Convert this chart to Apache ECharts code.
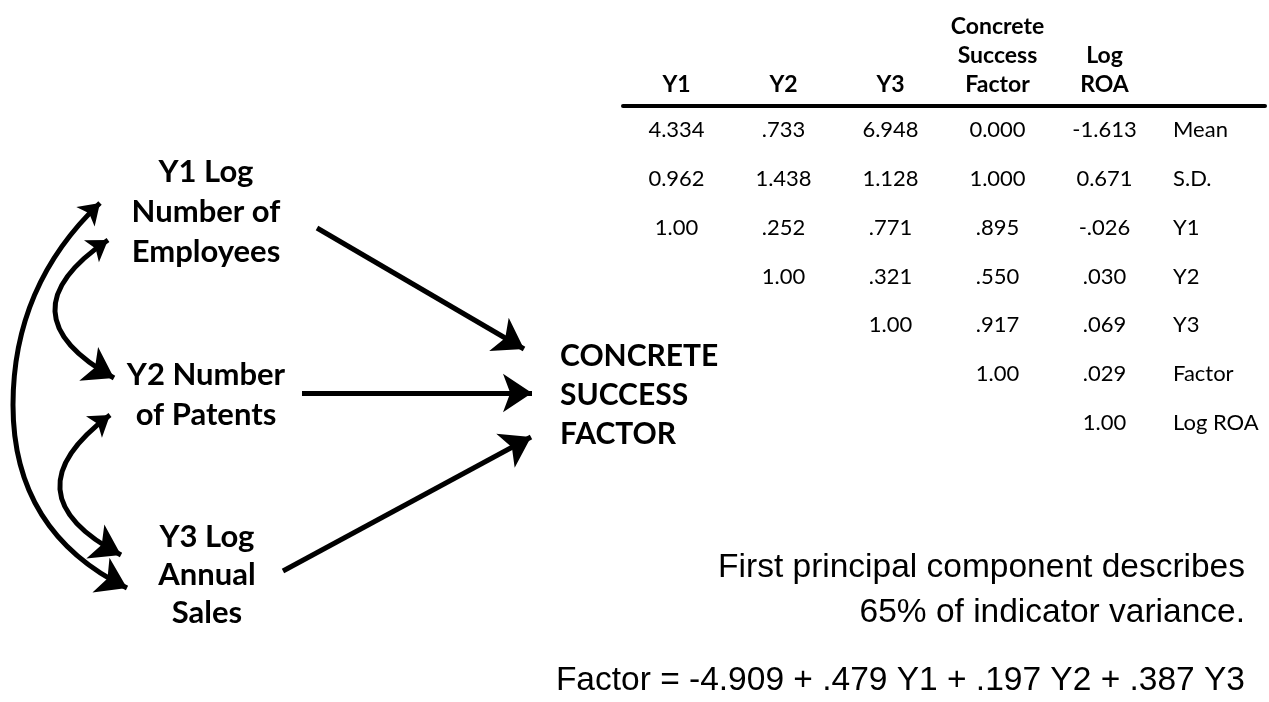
<!DOCTYPE html>
<html><head><meta charset="utf-8">
<script src="https://cdn.jsdelivr.net/npm/echarts@6/dist/echarts.min.js"></script>
<style>html,body{margin:0;padding:0;background:#fff;}#c{width:1269px;height:702px;}</style>
</head><body><div id="c"></div>
<script>
// ---------------- data ----------------
const columns = ['Y1', 'Y2', 'Y3', 'Concrete\nSuccess\nFactor', 'Log\nROA', ''];
const rowLabels = ['Mean', 'S.D.', 'Y1', 'Y2', 'Y3', 'Factor', 'Log ROA'];
const means = ['4.334', '.733', '6.948', '0.000', '-1.613'];
const sds = ['0.962', '1.438', '1.128', '1.000', '0.671'];
const corrY1 = ['1.00', '.252', '.771', '.895', '-.026'];
const corrY2 = ['1.00', '.321', '.550', '.030'];
const corrY3 = ['1.00', '.917', '.069'];
const corrFactor = ['1.00', '.029'];
const corrLogROA = ['1.00'];
const indicators = ['Y1 Log\nNumber of\nEmployees', 'Y2 Number\nof Patents', 'Y3 Log\nAnnual\nSales'];
const factorName = 'CONCRETE\nSUCCESS\nFACTOR';
const notes = ['First principal component describes\n65% of indicator variance.', 'Factor = -4.909 + .479 Y1 + .197 Y2 + .387 Y3'];

// ---------------- diagram layout (pixel positions) ----------------
const layout = {
  indicatorPos: [[206, 212], [206, 395], [207, 575]],
  indicatorLineHeight: [40, 40, 38],
  factorPos: [560, 395],
  paths: [
    { from: [317, 228], tip: [524, 349] },
    { from: [302, 393], tip: [532, 393] },
    { from: [283, 571], tip: [531, 437] }
  ],
  // single-arc double arrows: endpoints and leftmost x of the arc
  covs: [
    { a: [108, 240], b: [114, 378], left: 55 },
    { a: [110, 415], b: [121, 555], left: 60 }
  ],
  // long arc drawn in two halves meeting (vertical tangent) at "join"
  longCov: { a: [100, 203], join: [13, 405], b: [127, 588] },
  notePos: [[1245, 590], [1245, 681]]
};
const ARROW = [20, 29];
const FONT = 'Lato, "Open Sans", sans-serif';
const series = [];

function linesSeries(coords, curveness, symbols) {
  return {
    type: 'lines', coordinateSystem: 'cartesian2d', xAxisIndex: 0, yAxisIndex: 0,
    symbol: symbols, symbolSize: ARROW,
    lineStyle: { color: '#000', width: 5, opacity: 1, curveness: curveness, cap: 'butt' },
    itemStyle: { color: '#000', opacity: 1 },
    silent: true,
    data: [{ coords: coords }]
  };
}
// curveness giving a control point with x = cpx on the perpendicular bisector
function curveFor(p1, p2, cpx) {
  const mx = (p1[0] + p2[0]) / 2;
  return (mx - cpx) / (p1[1] - p2[1]);
}

// straight arrows
layout.paths.forEach(p => series.push(linesSeries([p.from, p.tip], 0, ['none', 'arrow'])));

// curved double arrows
layout.covs.forEach(cv => {
  const mx = (cv.a[0] + cv.b[0]) / 2;
  series.push(linesSeries([cv.a, cv.b], curveFor(cv.a, cv.b, 2 * cv.left - mx), ['arrow', 'arrow']));
});
const L = layout.longCov;
series.push(linesSeries([L.a, L.join], curveFor(L.a, L.join, L.join[0]), ['arrow', 'none']));
series.push(linesSeries([L.join, L.b], curveFor(L.join, L.b, L.join[0]), ['none', 'arrow']));

// diagram texts
function textSeries(points, labelOpt) {
  return {
    type: 'scatter', xAxisIndex: 0, yAxisIndex: 0, symbolSize: 1,
    itemStyle: { color: 'rgba(0,0,0,0)', opacity: 1 }, silent: true,
    data: points,
    label: Object.assign({ show: true, position: 'inside', color: '#000', opacity: 1,
      formatter: p => p.data.name }, labelOpt)
  };
}
indicators.forEach((t, i) => {
  series.push(textSeries([{ name: t, value: layout.indicatorPos[i] }],
    { fontFamily: FONT, fontWeight: 'bold', fontSize: 31, lineHeight: layout.indicatorLineHeight[i], align: 'center', verticalAlign: 'middle' }));
});
series.push(textSeries([{ name: factorName, value: layout.factorPos }],
  { fontFamily: FONT, fontWeight: 'bold', fontSize: 30, lineHeight: 39, align: 'left', verticalAlign: 'middle' }));
notes.forEach((t, i) => {
  series.push(textSeries([{ name: t, value: layout.notePos[i] }],
    { fontFamily: '"Liberation Sans", Arial, sans-serif', fontSize: 33.5, lineHeight: 45, align: 'right', verticalAlign: 'middle' }));
});

// table values
const tableRows = [means, sds, corrY1, corrY2, corrY3, corrFactor, corrLogROA];
const cells = [];
tableRows.forEach((arr, r) => {
  const off = r < 2 ? 0 : r - 2;
  arr.forEach((v, i) => cells.push({ value: [i + off, r], name: v }));
});
series.push({
  type: 'scatter', xAxisIndex: 1, yAxisIndex: 1, symbolSize: 1,
  itemStyle: { color: 'rgba(0,0,0,0)', opacity: 1 }, silent: true,
  data: cells,
  label: { show: true, position: 'inside', color: '#000', opacity: 1, fontFamily: FONT, fontSize: 22,
    formatter: p => p.data.name }
});

const chart = echarts.init(document.getElementById('c'), null, { renderer: 'canvas' });
chart.setOption({
  animation: false,
  backgroundColor: '#fff',
  grid: [
    { left: 0, top: 0, right: 0, bottom: 0 },
    { left: 623, right: 4, top: 106, height: 341 }
  ],
  xAxis: [
    { type: 'value', gridIndex: 0, min: 0, max: 1269, show: false },
    { type: 'category', gridIndex: 1, data: columns, position: 'top',
      axisLine: { show: true, lineStyle: { color: '#000', width: 4 } },
      axisTick: { show: false }, splitLine: { show: false },
      axisLabel: { interval: 0, margin: 7, color: '#000', fontFamily: FONT, fontWeight: 'bold', fontSize: 23, lineHeight: 29 } }
  ],
  yAxis: [
    { type: 'value', gridIndex: 0, min: 0, max: 702, inverse: true, show: false },
    { type: 'category', gridIndex: 1, data: rowLabels, inverse: true, position: 'right', offset: -92,
      axisLine: { show: false }, axisTick: { show: false }, splitLine: { show: false },
      axisLabel: { interval: 0, margin: 0, align: 'left', color: '#000', fontFamily: FONT, fontSize: 22 } }
  ],
  series: series
});
</script></body></html>
